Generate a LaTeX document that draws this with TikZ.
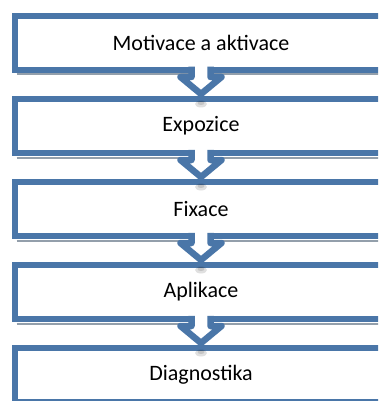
\documentclass[tikz,border=0pt]{standalone}
\usepackage{fontspec}
\setmainfont{Carlito}
\usepackage{tikz}
\usetikzlibrary{positioning,calc}
\definecolor{stepblue}{HTML}{4A76A8}
\definecolor{stepshadow}{HTML}{939FAB}

\begin{document}
\begin{tikzpicture}[x=1pt,y=1pt,
  node distance=29pt,
  stepbox/.style={rectangle,outer sep=0pt,minimum width=372pt,minimum height=54pt,
    font=\fontsize{22}{26}\selectfont},
  stepline/.style={draw=stepblue,line width=6.5pt},
  flowarrow/.style={draw=stepblue,fill=white,line width=6.5pt,line join=round},
  stepshade/.style={draw=stepshadow,line width=2pt},
  tipshade/.style={fill=black,fill opacity=0.12}]
\useasboundingbox (0,0) rectangle (378,-401);
\clip (0,0) rectangle (378,-401);
\node[stepbox] (mot) at (201,-43) {Motivace a aktivace};
\node[stepbox,below=of mot] (expo) {Expozice};
\node[stepbox,below=of expo] (fix) {Fixace};
\node[stepbox,below=of fix] (apl) {Aplikace};
\node[stepbox,below=of apl] (diag) {Diagnostika};
% frames, open on the right (they run off the page)
\foreach \n in {mot,expo,fix,apl,diag}
  \draw[stepline] ([xshift=20pt]\n.north east) -- (\n.north west)
    -- (\n.south west) -- ([xshift=20pt]\n.south east);
% shadows and arrows between the steps
\foreach \a/\b in {mot/expo,expo/fix,fix/apl,apl/diag}{
  \draw[stepshade] ($(\a.south west)+(1.5,-4.5)$) -- ($(\a.south east)+(20,-4.5)$);
  \fill[tipshade] ($(\b.north)+(0,-5)$) ellipse (6 and 3.5);
  \fill[tipshade] ($(\b.north)+(0,-4)$) ellipse (3.5 and 2);
  \filldraw[flowarrow] ($(\a.south)+(-9.5,3.25)$) -- ($(\a.south)+(-9.5,-7)$)
    -- ($(\a.south)+(-20.5,-7)$) -- ($(\b.north)+(0,5)$)
    -- ($(\a.south)+(20.5,-7)$) -- ($(\a.south)+(9.5,-7)$) -- ($(\a.south)+(9.5,3.25)$);
}
\end{tikzpicture}
\end{document}
